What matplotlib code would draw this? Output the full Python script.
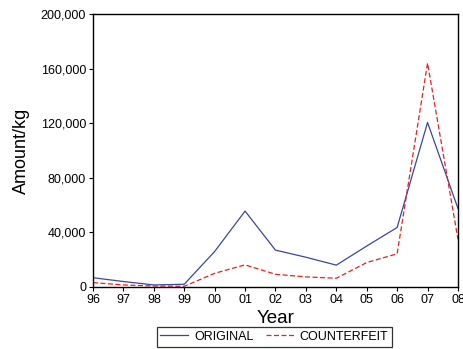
import matplotlib
matplotlib.use("Agg")
import matplotlib.pyplot as plt
from matplotlib.ticker import FuncFormatter

plt.rcParams['font.family'] = ['Liberation Sans', 'DejaVu Sans']

years = ["96", "97", "98", "99", "00", "01", "02", "03", "04", "05", "06", "07", "08"]
original = [6800, 4000, 1500, 2000, 26000, 55600, 27000, 21800, 16000, 30000, 43600, 120500, 57500]
counterfeit = [3200, 1500, 700, 500, 10000, 16200, 9300, 7400, 6400, 17900, 24300, 164000, 35000]
yticks = [0, 40000, 80000, 120000, 160000, 200000]

fig = plt.figure(figsize=(4.64, 3.49), dpi=100)
ax = fig.add_axes([0.2004, 0.1777, 0.7866, 0.7823])
x = list(range(len(years)))
ax.plot(x, original, color='#3a47a0', lw=0.9, label='ORIGINAL')
ax.plot(x, counterfeit, color='#e82020', lw=0.9, ls=(0, (4, 2)), label='COUNTERFEIT')
ax.set_xlim(0, len(years) - 1)
ax.set_ylim(0, 200000)
ax.set_xticks(x)
ax.set_xticklabels(years)
ax.set_yticks(yticks)
ax.yaxis.set_major_formatter(FuncFormatter(lambda v, p: f"{int(v):,}"))
ax.tick_params(labelsize=9, length=3, width=0.8, pad=2)
for s in ax.spines.values():
    s.set_linewidth(1.0)
ax.set_xlabel('Year', fontsize=13.5, labelpad=3)
ax.set_ylabel('Amount/kg', fontsize=13, labelpad=8)
leg = ax.legend(loc='upper center', bbox_to_anchor=(0.497, -0.124), ncol=2, fontsize=9,
                frameon=True, fancybox=False, edgecolor='black', handlelength=2.2,
                borderpad=0.3, columnspacing=1.0, handletextpad=0.5)
leg.get_frame().set_linewidth(0.9)
fig.savefig('out.png', dpi=100)
